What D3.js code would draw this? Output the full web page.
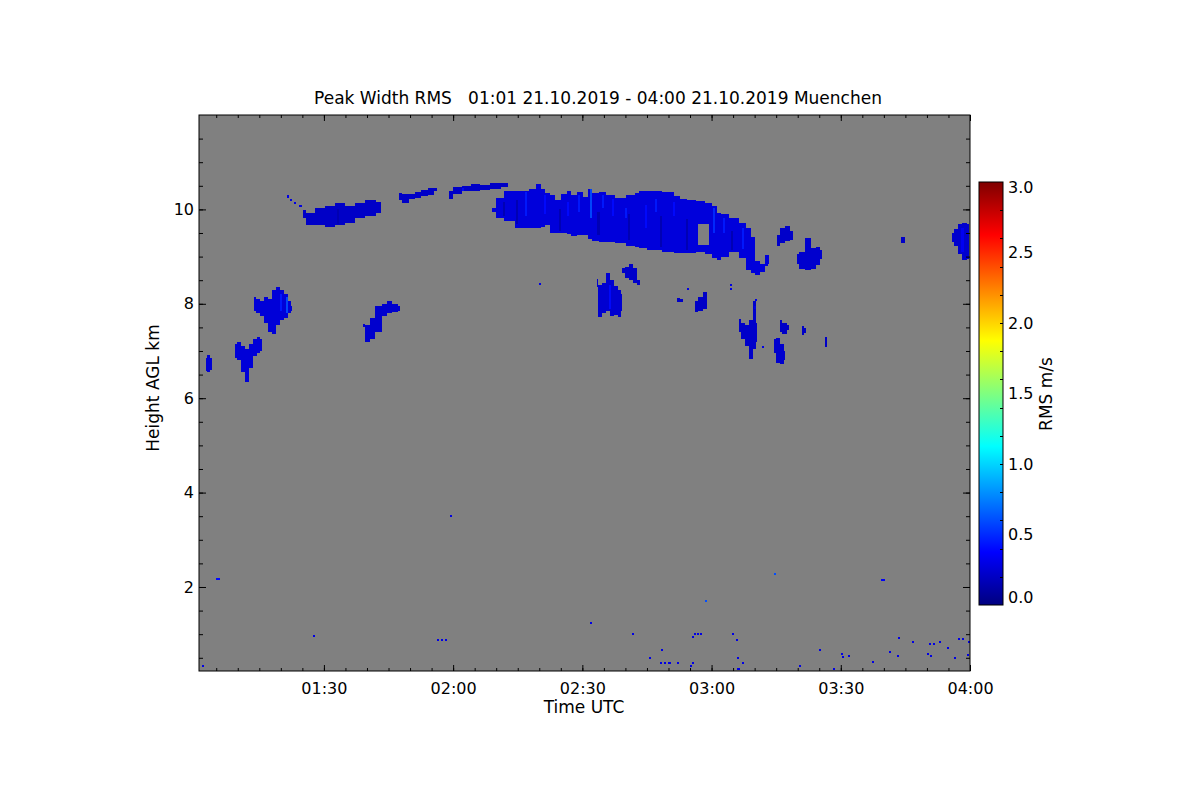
<!DOCTYPE html>
<html>
<head>
<meta charset="utf-8">
<script src="https://cdn.jsdelivr.net/npm/d3@7"></script>
<style>
  body { margin: 0; background: #fff; }
  text { font-family: "DejaVu Sans", sans-serif; font-size: 16px; fill: #000; }
  text.label { font-size: 17px; }
</style>
</head>
<body>
<div id="chart"></div>
<script>
// ---- data: time in minutes after 01:00 UTC, height in km AGL, value in m/s ----
const titleText = "Peak Width RMS   01:01 21.10.2019 - 04:00 21.10.2019 Muenchen";
const timeDomain = [1, 180];
const heightDomain = [0.22, 12];
const rmsDomain = [0, 3];
const xTickLabels = ["01:30", "02:00", "02:30", "03:00", "03:30", "04:00"];
const yTickValues = [2, 4, 6, 8, 10];
const cbarTickLabels = ["0.0", "0.5", "1.0", "1.5", "2.0", "2.5", "3.0"];
const jetPositions = [0, 0.125, 0.375, 0.625, 0.875, 1];
const jetColors = ["#00007f", "#0000ff", "#00ffff", "#ffff00", "#ff0000", "#7f0000"];

// cloud profiles: [time, base, top]
const cloudA = [[2.6, 6.58, 6.85], [3.3, 6.55, 6.92], [4.0, 6.60, 6.85]];
const cloudB = [[9.4, 6.85, 7.15], [10.3, 6.80, 7.20], [11.2, 6.55, 7.10], [12.1, 6.35, 7.05],
  [13.1, 6.65, 7.15], [14.0, 6.90, 7.25], [14.9, 6.95, 7.30], [15.6, 7.00, 7.25]];
const cloudC = [[13.8, 7.85, 8.15], [14.7, 7.80, 8.10], [15.6, 7.75, 8.05], [16.6, 7.60, 8.15],
  [17.5, 7.40, 8.10], [18.4, 7.35, 8.30], [19.3, 7.55, 8.35], [20.3, 7.65, 8.30],
  [21.2, 7.70, 8.20], [22.1, 7.80, 8.05], [22.6, 7.85, 7.95]];
const cloudD = [[39.1, 7.50, 7.58], [40.0, 7.20, 7.55], [41.2, 7.25, 7.70], [42.6, 7.40, 7.95],
  [44.2, 7.75, 8.00], [45.3, 7.80, 8.05], [46.5, 7.82, 8.00], [47.7, 7.85, 7.95]];
const cloudE = [[25.1, 9.81, 9.98], [26.8, 9.66, 9.92], [29.1, 9.66, 10.02], [31.4, 9.62, 10.08],
  [33.7, 9.66, 10.13], [36.1, 9.72, 10.08], [38.4, 9.81, 10.13], [40.7, 9.87, 10.19], [43.3, 9.92, 10.15]];
const cloudF = [[47.4, 10.20, 10.34], [48.8, 10.13, 10.32], [50.5, 10.22, 10.33], [51.8, 10.25, 10.36],
  [53.5, 10.28, 10.42], [54.9, 10.30, 10.45], [56.3, 10.38, 10.46]];
const cloudG = [[59.0, 10.23, 10.40], [60.9, 10.32, 10.47], [63.0, 10.38, 10.50], [65.1, 10.40, 10.54],
  [67.4, 10.42, 10.52], [69.7, 10.44, 10.56], [72.7, 10.47, 10.55]];
const cloudH = [[69.0, 9.94, 10.04], [70.9, 9.81, 10.25], [72.7, 9.75, 10.40], [76.0, 9.60, 10.40],
  [79.0, 9.60, 10.44], [79.7, 9.60, 10.53], [80.9, 9.62, 10.44], [81.8, 9.66, 10.35],
  [83.0, 9.49, 10.30], [84.1, 9.49, 10.19], [86.0, 9.49, 10.33], [86.7, 9.47, 10.40],
  [87.8, 9.43, 10.30], [89.5, 9.45, 10.36], [90.6, 9.45, 10.26], [91.8, 9.38, 10.44],
  [92.9, 9.34, 10.34], [94.8, 9.31, 10.36], [96.4, 9.30, 10.30], [98.7, 9.28, 10.25],
  [101.8, 9.22, 10.30], [102.7, 9.20, 10.35], [103.4, 9.18, 10.40], [106.4, 9.13, 10.40],
  [110.4, 9.09, 10.36], [112.2, 9.07, 10.28], [113.1, 9.07, 10.23], [115.4, 9.08, 10.19],
  [117.2, 9.09, 10.17], [119.6, 9.05, 10.13], [120.8, 8.98, 10.08], [121.9, 8.92, 9.92],
  [122.6, 9.00, 9.90], [125.4, 9.09, 9.81], [127.3, 8.96, 9.72], [128.9, 8.71, 9.60],
  [129.6, 8.65, 9.41], [130.6, 8.60, 8.90], [131.7, 8.67, 8.85], [132.9, 8.80, 9.03], [133.4, 8.85, 9.03]];
const cloudI = [[135.2, 9.22, 9.45], [136.4, 9.28, 9.60], [137.6, 9.32, 9.65], [138.9, 9.35, 9.55]];
const cloudJ = [[139.8, 8.85, 9.05], [141.0, 8.73, 9.10], [142.4, 8.71, 9.40], [143.8, 8.73, 9.18],
  [144.7, 8.82, 9.20], [145.6, 8.95, 9.15]];
const cloudK = [[164.0, 9.28, 9.41], [165.0, 9.28, 9.41]];
const cloudL = [[175.8, 9.30, 9.50], [176.8, 9.22, 9.58], [177.7, 9.05, 9.70], [178.8, 8.92, 9.72], [179.8, 8.95, 9.70]];
const cloudM = [[93.4, 8.35, 8.52], [94.1, 7.72, 8.40], [95.0, 7.80, 8.45], [96.0, 7.85, 8.65],
  [96.9, 7.75, 8.50], [97.8, 7.76, 8.38], [98.7, 7.72, 8.30], [99.2, 7.85, 8.20]];
const cloudN = [[99.2, 8.65, 8.75], [100.4, 8.55, 8.78], [101.3, 8.50, 8.85], [102.2, 8.45, 8.75], [103.4, 8.40, 8.50]];
const cloudP1 = [[111.9, 8.03, 8.12], [113.4, 8.04, 8.10]];
const cloudP2 = [[116.2, 7.82, 8.05], [117.3, 7.84, 8.15], [118.9, 7.90, 8.25]];
const cloudR = [[126.4, 7.40, 7.68], [127.3, 7.25, 7.60], [128.2, 7.10, 7.55], [129.2, 6.82, 7.65],
  [130.1, 7.05, 8.05], [130.6, 7.20, 7.60]];
const cloudS = [[134.5, 6.95, 7.25], [135.4, 6.75, 7.27], [136.4, 6.72, 7.15], [137.1, 6.80, 7.00]];
const cloudT = [[135.9, 7.40, 7.65], [137.0, 7.35, 7.60], [138.0, 7.45, 7.55]];
const cloudU = [[141.0, 7.33, 7.52], [142.0, 7.38, 7.48]];
const cloudV = [[146.3, 7.08, 7.30], [146.8, 7.08, 7.30]];
const clouds = [cloudA, cloudB, cloudC, cloudD, cloudE, cloudF, cloudG, cloudH, cloudI, cloudJ, cloudK,
  cloudL, cloudM, cloudN, cloudP1, cloudP2, cloudR, cloudS, cloudT, cloudU, cloudV];
const cloudValues = [0.25, 0.26, 0.26, 0.23, 0.21, 0.21, 0.21, 0.27, 0.22, 0.23, 0.21,
  0.23, 0.24, 0.22, 0.21, 0.21, 0.22, 0.23, 0.21, 0.21, 0.21];

// thin vertical streaks inside clouds: [time, base, top, value]
const streaks = [
  [76.7, 9.87, 10.36, 0.45], [86.4, 9.87, 10.15, 0.4], [89.0, 9.94, 10.30, 0.45], [91.8, 9.81, 10.44, 0.6],
  [94.6, 10.02, 10.30, 0.45], [96.9, 9.87, 10.23, 0.4], [99.9, 9.81, 10.02, 0.45], [106.9, 9.94, 10.23, 0.45],
  [111.1, 9.87, 10.15, 0.4], [120.3, 9.51, 10.02, 0.5], [122.7, 9.51, 9.81, 0.45], [127.1, 9.17, 9.60, 0.45],
  [19.8, 7.85, 8.20, 0.45], [21.2, 7.80, 8.14, 0.6], [81.0, 9.90, 10.30, 0.4], [104.5, 9.60, 10.10, 0.4],
  [74.5, 9.70, 10.20, 0.14], [84.5, 9.55, 10.00, 0.14], [93.5, 9.45, 9.95, 0.14], [100.5, 9.35, 9.90, 0.14],
  [108.0, 9.20, 9.85, 0.14], [114.0, 9.15, 9.80, 0.14], [124.5, 9.15, 9.55, 0.14], [71.5, 9.85, 10.15, 0.14],
  [33.0, 9.70, 10.00, 0.14], [62.0, 10.38, 10.46, 0.4], [96.2, 7.90, 8.40, 0.4], [178.0, 9.10, 9.60, 0.35]
];
// empty gaps inside clouds: [t0, t1, base, top]
const gaps = [[116.9, 119.4, 9.24, 9.70]];
// single speckles: [time, height, value]
const specks = [
  [4.9, 2.15, 0.4], [5.4, 2.15, 0.4], [27.5, 0.94, 0.3], [56.3, 0.86, 0.3], [57.2, 0.86, 0.3], [58.1, 0.86, 0.3],
  [91.8, 1.22, 0.3], [1.7, 0.31, 0.3], [134.5, 2.25, 0.6], [118.5, 1.68, 0.6], [159.3, 2.13, 0.35],
  [159.8, 2.13, 0.35], [101.5, 0.98, 0.3], [115.9, 0.98, 0.3], [116.6, 0.98, 0.3], [117.3, 0.98, 0.3],
  [115.5, 0.92, 0.3], [124.8, 0.98, 0.3], [125.7, 0.86, 0.3], [105.5, 0.48, 0.3], [108.3, 0.65, 0.3],
  [108.0, 0.37, 0.3], [109.0, 0.37, 0.3], [110.0, 0.37, 0.3], [112.0, 0.37, 0.3], [115.5, 0.37, 0.3],
  [115.0, 0.31, 0.3], [125.9, 0.48, 0.3], [127.0, 0.37, 0.3], [126.0, 0.24, 0.3], [140.3, 0.31, 0.3],
  [145.0, 0.65, 0.3], [148.2, 0.24, 0.3], [150.0, 0.55, 0.3], [150.3, 0.50, 0.3], [151.7, 0.52, 0.3],
  [157.3, 0.39, 0.3], [161.2, 0.60, 0.3], [163.0, 0.52, 0.3], [163.3, 0.90, 0.3], [166.5, 0.81, 0.3],
  [170.0, 0.56, 0.3], [170.5, 0.77, 0.3], [171.4, 0.77, 0.3], [170.7, 0.52, 0.3], [172.8, 0.81, 0.3],
  [174.7, 0.69, 0.3], [176.3, 0.48, 0.3], [177.2, 0.88, 0.3], [178.2, 0.88, 0.3], [179.5, 0.81, 0.3],
  [179.3, 0.54, 0.3], [59.3, 3.48, 0.3], [79.9, 8.39, 0.3], [21.4, 10.25, 0.3], [22.2, 10.18, 0.3],
  [23.0, 10.12, 0.3], [24.3, 10.05, 0.3], [114.3, 8.29, 0.3], [124.3, 8.30, 0.3], [124.3, 8.38, 0.3],
  [131.7, 7.06, 0.3], [129.8, 7.90, 0.3], [130.0, 8.05, 0.3]
];

// ---- layout ----
const W = 1200, H = 800;
const plot = { left: 199, right: 970, top: 115, bottom: 671 };
const cbar = { left: 979, right: 1003, top: 182, bottom: 605 };
const cellMinutes = 0.5, cellKm = 0.045;

const day = Date.UTC(2019, 9, 21, 1, 0);
const toDate = m => new Date(day + m * 60000);
const parseHM = s => { const [h, m] = s.split(":").map(Number); return toDate((h - 1) * 60 + m); };

const svg = d3.select("#chart").append("svg").attr("width", W).attr("height", H);

const x = d3.scaleUtc().domain(timeDomain.map(toDate)).range([plot.left, plot.right]);
const y = d3.scaleLinear().domain(heightDomain).range([plot.bottom, plot.top]);
const color = d3.scaleLinear()
  .domain(jetPositions.map(p => rmsDomain[0] + p * (rmsDomain[1] - rmsDomain[0])))
  .range(jetColors).clamp(true);

svg.append("defs").append("clipPath").attr("id", "plotClip")
  .append("rect").attr("x", plot.left).attr("y", plot.top)
  .attr("width", plot.right - plot.left).attr("height", plot.bottom - plot.top);

// background (no data)
svg.append("rect").attr("x", plot.left).attr("y", plot.top)
  .attr("width", plot.right - plot.left).attr("height", plot.bottom - plot.top)
  .attr("fill", "#808080");

const layer = svg.append("g").attr("clip-path", "url(#plotClip)").attr("shape-rendering", "crispEdges");

const area = d3.area()
  .x(d => x(toDate(d[0])))
  .y0(d => y(d[1]))
  .y1(d => y(d[2]))
  .curve(d3.curveStep);

layer.selectAll("path.cloud").data(clouds).join("path")
  .attr("class", "cloud")
  .attr("d", area)
  .attr("fill", (d, i) => color(cloudValues[i]));

layer.selectAll("rect.streak").data(streaks).join("rect")
  .attr("class", "streak")
  .attr("x", d => x(toDate(d[0])))
  .attr("width", x(toDate(cellMinutes)) - x(toDate(0)))
  .attr("y", d => y(d[2]))
  .attr("height", d => y(d[1]) - y(d[2]))
  .attr("fill", d => color(d[3]))
  .attr("opacity", 0.9);

layer.selectAll("rect.gap").data(gaps).join("rect")
  .attr("class", "gap")
  .attr("x", d => x(toDate(d[0])))
  .attr("width", d => x(toDate(d[1])) - x(toDate(d[0])))
  .attr("y", d => y(d[3]))
  .attr("height", d => y(d[2]) - y(d[3]))
  .attr("fill", "#808080");

layer.selectAll("rect.speck").data(specks).join("rect")
  .attr("class", "speck")
  .attr("x", d => x(toDate(d[0])))
  .attr("width", x(toDate(cellMinutes)) - x(toDate(0)))
  .attr("y", d => y(d[1] + cellKm))
  .attr("height", y(0) - y(cellKm))
  .attr("fill", d => color(d[2]));

// ---- axes ----
const xMajor = xTickLabels.map(parseHM);
const xMinor = d3.utcMinute.every(5).range(toDate(timeDomain[0]), toDate(timeDomain[1] + 0.01));
const yMinor = d3.range(0.5, 12, 0.5);

function strip(g) {
  g.select(".domain").remove();
  g.selectAll("line").attr("stroke", "#000");
}

svg.append("g").attr("transform", `translate(0,${plot.bottom})`)
  .call(d3.axisBottom(x).tickValues(xMinor).tickSize(-3).tickFormat("")).call(strip);
svg.append("g").attr("transform", `translate(0,${plot.bottom})`)
  .call(d3.axisBottom(x).tickValues(xMajor).tickSize(-6).tickPadding(12).tickFormat(d3.utcFormat("%H:%M")))
  .call(strip);
svg.append("g").attr("transform", `translate(0,${plot.top})`)
  .call(d3.axisTop(x).tickValues(xMinor).tickSize(-3).tickFormat("")).call(strip);
svg.append("g").attr("transform", `translate(0,${plot.top})`)
  .call(d3.axisTop(x).tickValues(xMajor).tickSize(-6).tickFormat("")).call(strip);

svg.append("g").attr("transform", `translate(${plot.left},0)`)
  .call(d3.axisLeft(y).tickValues(yMinor).tickSize(-4).tickFormat("")).call(strip);
svg.append("g").attr("transform", `translate(${plot.left},0)`)
  .call(d3.axisLeft(y).tickValues(yTickValues).tickSize(-7).tickPadding(5).tickFormat(d3.format("d")))
  .call(strip);
svg.append("g").attr("transform", `translate(${plot.right},0)`)
  .call(d3.axisRight(y).tickValues(yMinor).tickSize(-4).tickFormat("")).call(strip);
svg.append("g").attr("transform", `translate(${plot.right},0)`)
  .call(d3.axisRight(y).tickValues(yTickValues).tickSize(-7).tickFormat("")).call(strip);

svg.append("rect").attr("x", plot.left).attr("y", plot.top)
  .attr("width", plot.right - plot.left).attr("height", plot.bottom - plot.top)
  .attr("fill", "none").attr("stroke", "#000").attr("stroke-width", 1);

// ---- titles ----
svg.append("text").attr("class", "label").attr("x", 598).attr("y", 104).attr("text-anchor", "middle")
  .style("white-space", "pre").text(titleText);
svg.append("text").attr("class", "label").attr("x", 584).attr("y", 713).attr("text-anchor", "middle")
  .text("Time UTC");
svg.append("text").attr("class", "label").attr("transform", "translate(159,388) rotate(-90)")
  .attr("text-anchor", "middle").text("Height AGL km");

// ---- colour bar ----
const yc = d3.scaleLinear().domain(rmsDomain).range([cbar.bottom, cbar.top]);
const grad = svg.select("defs").append("linearGradient").attr("id", "jet")
  .attr("x1", 0).attr("y1", 1).attr("x2", 0).attr("y2", 0);
grad.selectAll("stop").data(jetPositions).join("stop")
  .attr("offset", d => d)
  .attr("stop-color", (d, i) => jetColors[i]);

svg.append("rect").attr("x", cbar.left).attr("y", cbar.top)
  .attr("width", cbar.right - cbar.left).attr("height", cbar.bottom - cbar.top)
  .attr("fill", "url(#jet)").attr("stroke", "#000").attr("stroke-width", 1);

const cbarTicks = d3.range(0.2, 3, 0.2);
svg.append("g").selectAll("line").data(cbarTicks).join("line")
  .attr("x1", cbar.right - 3).attr("x2", cbar.right)
  .attr("y1", d => Math.round(yc(d)) + 0.5).attr("y2", d => Math.round(yc(d)) + 0.5)
  .attr("stroke", "#000");

svg.append("g").selectAll("text").data(cbarTickLabels).join("text")
  .attr("x", cbar.right + 5)
  .attr("y", d => Math.min(Math.max(yc(+d), cbar.top + 5), cbar.bottom - 8))
  .attr("dy", "0.36em")
  .text(d => d);

svg.append("text").attr("class", "label").attr("transform", "translate(1052,394) rotate(-90)")
  .attr("text-anchor", "middle").text("RMS m/s");
</script>
</body>
</html>
